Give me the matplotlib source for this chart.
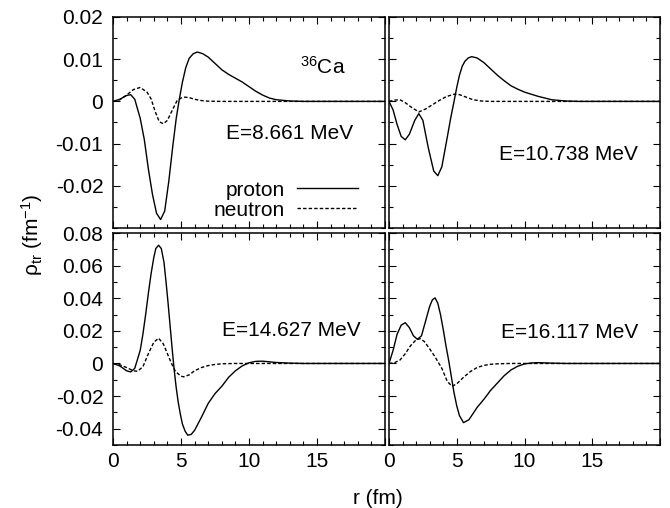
import matplotlib

matplotlib.use("Agg")

import matplotlib.pyplot as plt
from matplotlib.ticker import FixedLocator, MultipleLocator

plt.rcParams["font.family"] = ["Liberation Sans", "DejaVu Sans"]
plt.rcParams["mathtext.fontset"] = "custom"
plt.rcParams["mathtext.rm"] = "Liberation Sans"
plt.rcParams["mathtext.it"] = "Liberation Sans:italic"
plt.rcParams["font.size"] = 15

# transition densities, read on a non-uniform r grid (fm)
r_a = [0, 0.5, 1.0, 1.3, 1.6, 2.0, 2.3, 2.6, 2.9, 3.2, 3.5, 3.8, 4.1, 4.4, 4.65,
       4.85, 5.1, 5.35, 5.6, 5.9, 6.2, 6.6, 7.0, 7.5, 8.0, 8.5, 9.0, 9.5, 10.0,
       10.5, 11.0, 11.5, 12.0, 13.0, 14.0, 20.0]
prot_a = [0, 0.0005, 0.0014, 0.0016, 0.0005, -0.004, -0.009, -0.016, -0.022,
          -0.0265, -0.028, -0.026, -0.019, -0.0105, -0.004, 0.0, 0.0045, 0.008,
          0.0102, 0.0113, 0.0117, 0.0113, 0.0105, 0.009, 0.0075, 0.0064, 0.0055,
          0.0046, 0.0035, 0.0024, 0.0015, 0.0008, 0.0004, 0.0001, 0.0, 0.0]
rn_a = [0, 0.5, 1.0, 1.5, 2.0, 2.5, 2.8, 3.1, 3.4, 3.7, 4.0, 4.4, 4.7, 5.0, 5.3,
        5.6, 6.0, 6.5, 7.0, 8.0, 20.0]
neut_a = [0, 0.0004, 0.0015, 0.0028, 0.0033, 0.0022, 0.0006, -0.0024, -0.0048,
          -0.0053, -0.0045, -0.0018, 0.0001, 0.0008, 0.001, 0.0009, 0.0005,
          0.0002, 0.00005, 0.0, 0.0]

r_b = [0, 0.3, 0.6, 0.9, 1.2, 1.5, 1.9, 2.2, 2.5, 2.9, 3.3, 3.6, 3.9, 4.3, 4.55,
       4.8, 5.0, 5.2, 5.4, 5.6, 5.85, 6.1, 6.5, 7.0, 7.5, 8.0, 8.5, 9.0, 9.5,
       10.0, 11.0, 12.0, 13.0, 14.0, 20.0]
prot_b = [0, -0.002, -0.0055, -0.0083, -0.0091, -0.0078, -0.0045, -0.0029,
          -0.0045, -0.011, -0.0165, -0.0176, -0.0155, -0.0085, -0.004, 0.0, 0.0033,
          0.0062, 0.0083, 0.0095, 0.0103, 0.0106, 0.0103, 0.0092, 0.0077, 0.0062,
          0.0049, 0.0037, 0.0029, 0.0022, 0.0012, 0.0004, 0.0001, 0.0, 0.0]
rn_b = [0, 0.4, 0.8, 1.2, 1.7, 2.2, 2.7, 3.2, 3.7, 4.2, 4.8, 5.2, 5.7, 6.2, 6.8,
        7.5, 20.0]
neut_b = [0, 0.0003, 0.0004, -0.0003, -0.0015, -0.0025, -0.0018, -0.0008, 0.0002,
          0.0011, 0.0017, 0.0016, 0.001, 0.0004, 0.0001, 0.0, 0.0]

r_c = [0, 0.5, 1.0, 1.3, 1.6, 2.0, 2.2, 2.4, 2.6, 2.8, 3.0, 3.15, 3.35, 3.55, 3.75,
       3.9, 4.05, 4.2, 4.35, 4.5, 4.65, 4.8, 4.95, 5.1, 5.3, 5.5, 5.75, 6.0, 6.5,
       7.0, 7.5, 8.0, 8.5, 9.0, 9.5, 10.0, 10.5, 11.0, 12.0, 13.0, 14.0, 20.0]
prot_c = [0, -0.0015, -0.0045, -0.0052, -0.003, 0.008, 0.018, 0.03, 0.043, 0.055,
          0.065, 0.0705, 0.0725, 0.0705, 0.062, 0.05, 0.037, 0.023, 0.009, -0.004,
          -0.015, -0.024, -0.031, -0.037, -0.0415, -0.044, -0.0435, -0.041, -0.033,
          -0.0245, -0.0185, -0.014, -0.0085, -0.0045, -0.0015, 0.0004, 0.0013,
          0.0014, 0.0006, 0.0002, 0.0, 0.0]
rn_c = [0, 0.5, 1.0, 1.5, 1.8, 2.2, 2.6, 3.0, 3.35, 3.7, 4.0, 4.3, 4.6, 5.0, 5.2,
        5.6, 6.0, 6.5, 7.0, 7.5, 8.0, 9.0, 20.0]
neut_c = [0, -0.0008, -0.0025, -0.0045, -0.0048, -0.002, 0.006, 0.013, 0.0155,
          0.012, 0.006, 0.0, -0.005, -0.0078, -0.0082, -0.007, -0.0045, -0.0025,
          -0.0013, -0.0006, -0.0002, 0.0, 0.0]

r_d = [0, 0.3, 0.6, 0.9, 1.2, 1.5, 1.8, 2.1, 2.4, 2.7, 3.0, 3.2, 3.4, 3.6, 3.8,
       4.0, 4.2, 4.4, 4.6, 4.8, 5.0, 5.2, 5.5, 5.9, 6.5, 7.0, 7.5, 8.0, 8.5, 9.0,
       9.5, 10.0, 10.5, 11.0, 12.0, 13.0, 20.0]
prot_d = [0, 0.008, 0.018, 0.0235, 0.025, 0.022, 0.017, 0.0148, 0.017, 0.026,
          0.035, 0.039, 0.0402, 0.037, 0.03, 0.021, 0.011, 0.002, -0.008, -0.018,
          -0.026, -0.032, -0.0363, -0.0345, -0.027, -0.022, -0.0165, -0.012,
          -0.0075, -0.004, -0.0017, -0.0003, 0.0003, 0.0005, 0.0002, 0.0, 0.0]
rn_d = [0, 0.4, 0.8, 1.2, 1.6, 2.0, 2.3, 2.6, 3.0, 3.4, 3.9, 4.3, 4.65, 5.0, 5.5,
        6.0, 6.5, 7.0, 7.5, 8.0, 9.0, 20.0]
neut_d = [0, 0.0005, 0.002, 0.006, 0.011, 0.0145, 0.0152, 0.0135, 0.009, 0.004,
          -0.003, -0.011, -0.014, -0.0125, -0.0085, -0.005, -0.0025, -0.0012,
          -0.0005, -0.0002, 0.0, 0.0]

energies = ["E=8.661 MeV", "E=10.738 MeV", "E=14.627 MeV", "E=16.117 MeV"]

top_ticks = [-0.02, -0.01, 0, 0.01, 0.02]
top_labels = ["-0.02", "-0.01", "0", "0.01", "0.02"]
bot_ticks = [-0.04, -0.02, 0, 0.02, 0.04, 0.06, 0.08]
bot_labels = ["-0.04", "-0.02", "0", "0.02", "0.04", "0.06", "0.08"]
x_ticks = [0, 5, 10, 15]

W, H = 670, 508
fig = plt.figure(figsize=(W / 100, H / 100), dpi=100)


def box(x0, x1, ytop, ybot):
    return [x0 / W, 1 - ybot / H, (x1 - x0) / W, (ybot - ytop) / H]


axes = [
    fig.add_axes(box(113, 385, 17, 228)),
    fig.add_axes(box(389, 660, 17, 228)),
    fig.add_axes(box(113, 385, 233, 445)),
    fig.add_axes(box(389, 660, 233, 445)),
]

series = [
    (r_a, prot_a, rn_a, neut_a),
    (r_b, prot_b, rn_b, neut_b),
    (r_c, prot_c, rn_c, neut_c),
    (r_d, prot_d, rn_d, neut_d),
]

# where each energy label sits, in axes fraction (right edge, centre)
label_pos = [(0.882, 0.45), (0.919, 0.346), (0.912, 0.542), (0.919, 0.533)]

dash = (2.5, 1.5)
for i, (ax, (rp, p, rn, n)) in enumerate(zip(axes, series)):
    ax.plot(rp, p, color="black", lw=1.0, label="proton")
    ax.plot(rn, n, color="black", lw=1.0, dashes=dash, label="neutron")
    ax.set_xlim(0, 20)
    top = i < 2
    if top:
        ax.set_ylim(-0.03, 0.02)
        ax.yaxis.set_major_locator(FixedLocator(top_ticks))
        ax.yaxis.set_minor_locator(MultipleLocator(0.005))
        ax.set_yticklabels(top_labels if i == 0 else [])
    else:
        ax.set_ylim(-0.05, 0.08)
        ax.yaxis.set_major_locator(FixedLocator(bot_ticks))
        ax.yaxis.set_minor_locator(MultipleLocator(0.01))
        ax.set_yticklabels(bot_labels if i == 2 else [])
    ax.xaxis.set_major_locator(MultipleLocator(5))
    ax.xaxis.set_minor_locator(MultipleLocator(1))
    if top:
        ax.set_xticklabels([])
    else:
        ax.set_xticks(x_ticks + [20])
        ax.set_xticklabels([str(v) for v in x_ticks] + [""])
    ax.tick_params(which="both", direction="in", top=True, right=True,
                   labelsize=15, width=0.8)
    ax.tick_params(which="major", length=5)
    ax.tick_params(which="minor", length=3)
    ax.tick_params(axis="x", which="major", pad=5)
    ax.tick_params(axis="y", which="major", pad=7)
    for s in ax.spines.values():
        s.set_linewidth(1.1)
    xr, yr = label_pos[i]
    ax.text(xr, yr, energies[i], transform=ax.transAxes, ha="right",
            va="center", fontsize=15)

axes[0].text(0.77, 0.763, r"$^{36}$Ca", transform=axes[0].transAxes,
             ha="center", va="center", fontsize=15)
axes[0].legend(loc="lower right", bbox_to_anchor=(0.953, -0.03), frameon=False,
               markerfirst=False, handlelength=2.9, handletextpad=0.6,
               labelspacing=0.05, borderpad=0.2, fontsize=15)

fig.text(0.048, 0.537, r"ρ$_{\rm tr}$ (fm$^{-1}$)", rotation=90,
         ha="center", va="center", fontsize=15)
fig.text(378 / W, 1 - 498 / H, "r (fm)", ha="center", va="center", fontsize=15)

fig.savefig("out.png", dpi=100)
